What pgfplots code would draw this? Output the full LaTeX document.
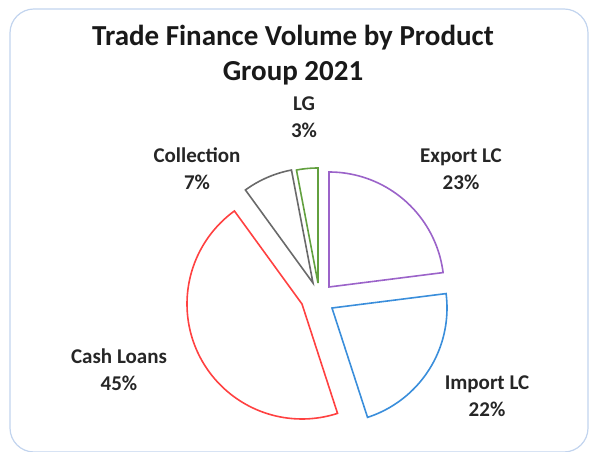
\documentclass[border=0pt]{standalone}
\usepackage{pgfplots}
\pgfplotsset{compat=1.18}
\usepackage{fontspec}
\setmainfont{Carlito}
\definecolor{cExport}{HTML}{9B63C9}
\definecolor{cImport}{HTML}{3A8EDB}
\definecolor{cCash}{HTML}{FF4141}
\definecolor{cColl}{HTML}{6A6A6A}
\definecolor{cLG}{HTML}{62A03F}
\definecolor{cBorder}{HTML}{C2D4EE}
% shares (percent) in pie order, clockwise from 12 o'clock
\def\vExport{23}\def\vImport{22}\def\vCash{45}\def\vColl{7}\def\vLG{3}
\begin{document}
\begin{tikzpicture}
\begin{axis}[
  scale only axis, width=589pt, height=452pt,
  xmin=0, xmax=589, ymin=0, ymax=452,
  hide axis, clip=false,
  every axis plot/.append style={line width=1.6pt, line join=miter},
]
\path[use as bounding box] (axis cs:0,0) rectangle (axis cs:589,452);
\draw[cBorder, line width=1.2pt, rounded corners=24pt] (axis cs:10,0) rectangle (axis cs:588,443);
% Export LC
\addplot[cExport, domain={90-3.6*\vExport}:90, samples=60, variable=\t]
  ({329+115*cos(\t)},{165+115*sin(\t)}) -- (axis cs:329,165) -- cycle;
% Import LC
\addplot[cImport, domain={90-3.6*(\vExport+\vImport)}:{90-3.6*\vExport}, samples=60, variable=\t]
  ({332+115*cos(\t)},{144+115*sin(\t)}) -- (axis cs:332,144) -- cycle;
% Cash Loans
\addplot[cCash, domain={90-3.6*(\vExport+\vImport+\vCash)}:{90-3.6*(\vExport+\vImport)}, samples=90, variable=\t]
  ({302+115*cos(\t)},{148+115*sin(\t)}) -- (axis cs:302,148) -- cycle;
% Collection
\addplot[cColl, domain={90-3.6*(\vExport+\vImport+\vCash+\vColl)}:{90-3.6*(\vExport+\vImport+\vCash)}, samples=20, variable=\t]
  ({313+115*cos(\t)},{169+115*sin(\t)}) -- (axis cs:313,169) -- cycle;
% LG
\addplot[cLG, domain={90-3.6*(\vExport+\vImport+\vCash+\vColl+\vLG)}:{90-3.6*(\vExport+\vImport+\vCash+\vColl)}, samples=10, variable=\t]
  ({318+115*cos(\t)},{169+115*sin(\t)}) -- (axis cs:318,169) -- cycle;
% title
\node[font=\fontsize{29}{35}\selectfont\bfseries, align=center, text=black!90] at (axis cs:293,397)
  {Trade Finance Volume by Product\\Group 2021};
% labels
\tikzset{lab/.style={font=\fontsize{21}{27}\selectfont\bfseries, align=center, text=black!85}}
\node[lab] at (axis cs:304,335) {LG\\\vLG\%};
\node[lab] at (axis cs:197,283) {Collection\\\vColl\%};
\node[lab] at (axis cs:461,283) {Export LC\\\vExport\%};
\node[lab] at (axis cs:119,82) {Cash Loans\\\vCash\%};
\node[lab] at (axis cs:487,56) {Import LC\\\vImport\%};
\end{axis}
\end{tikzpicture}
\end{document}
